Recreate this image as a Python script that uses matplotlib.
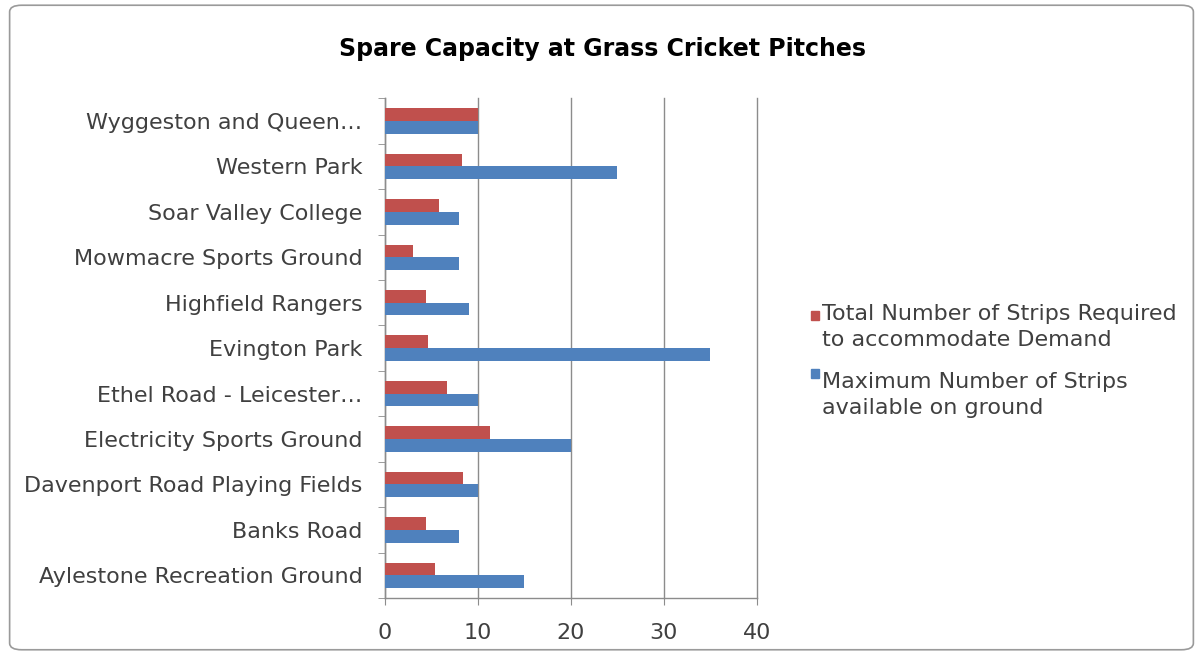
import matplotlib
matplotlib.use("Agg")
import matplotlib.pyplot as plt
import numpy as np
from matplotlib.patches import FancyBboxPatch, Rectangle

categories = [
    "Aylestone Recreation Ground",
    "Banks Road",
    "Davenport Road Playing Fields",
    "Electricity Sports Ground",
    "Ethel Road - Leicester\u2026",
    "Evington Park",
    "Highfield Rangers",
    "Mowmacre Sports Ground",
    "Soar Valley College",
    "Western Park",
    "Wyggeston and Queen\u2026",
]
required = [5.4, 4.4, 8.4, 11.3, 6.7, 4.6, 4.4, 3.0, 5.8, 8.3, 10]
maximum = [15, 8, 10, 20, 10, 35, 9, 8, 8, 25, 10]
series_names = [
    "Total Number of Strips Required\nto accommodate Demand",
    "Maximum Number of Strips\navailable on ground",
]
xticks = [0, 10, 20, 30, 40]
title = "Spare Capacity at Grass Cricket Pitches"

RED = "#C0504D"
BLUE = "#4F81BD"
GRID = "#8C8C8C"
FONT = "DejaVu Sans"
W, H = 1203, 655

fig = plt.figure(figsize=(12.03, 6.55), dpi=100)
border = FancyBboxPatch((0.008, 0.008), 0.984, 0.984,
                        boxstyle="round,pad=0,rounding_size=0.01",
                        transform=fig.transFigure, fill=False,
                        edgecolor="#9A9A9A", linewidth=1.2)
fig.patches.append(border)

ax = fig.add_axes([0.320, 0.087, 0.309, 0.763])
y = np.arange(len(categories))
h = 0.28
ax.barh(y + h / 2, required, height=h, color=RED, zorder=3, label=series_names[0])
ax.barh(y - h / 2, maximum, height=h, color=BLUE, zorder=3, label=series_names[1])

ax.set_xlim(0, 40)
ax.set_ylim(-0.5, len(categories) - 0.5)
ax.set_xticks(xticks)
ax.set_xticklabels([str(v) for v in xticks], fontsize=16, family=FONT, color="#404040")
ax.set_yticks(y)
ax.set_yticklabels(categories, fontsize=16, family=FONT, color="#404040")
ax.set_yticks(np.arange(len(categories) + 1) - 0.5, minor=True)
ax.tick_params(axis="y", which="major", length=0, pad=16)
ax.tick_params(axis="y", which="minor", length=5, color=GRID, direction="out")
ax.tick_params(axis="x", length=5, color=GRID, direction="out", pad=13)

ax.grid(axis="x", color=GRID, linewidth=1, zorder=0)
for gl in ax.get_xgridlines():
    gl.set_clip_on(False)
for s in ["top", "right"]:
    ax.spines[s].set_visible(False)
for s in ["left", "bottom"]:
    ax.spines[s].set_color(GRID)
    ax.spines[s].set_linewidth(1)

fig.text(0.501, 0.925, title, ha="center", va="center", fontsize=17,
         fontweight="bold", family=FONT, color="#000000")

# legend (square aligned with first line of each entry, as in the reference)
leg_items = [(RED, series_names[0], 315, 327), (BLUE, series_names[1], 373, 395)]
for color, name, sq_y, txt_y in leg_items:
    fig.patches.append(Rectangle((811 / W, 1 - (sq_y + 4.5) / H), 8 / W, 9 / H,
                                 transform=fig.transFigure, color=color))
    fig.text(822 / W, 1 - txt_y / H, name, ha="left", va="center", fontsize=16,
             family=FONT, color="#404040", linespacing=1.35)

fig.savefig("out.png", dpi=100)
